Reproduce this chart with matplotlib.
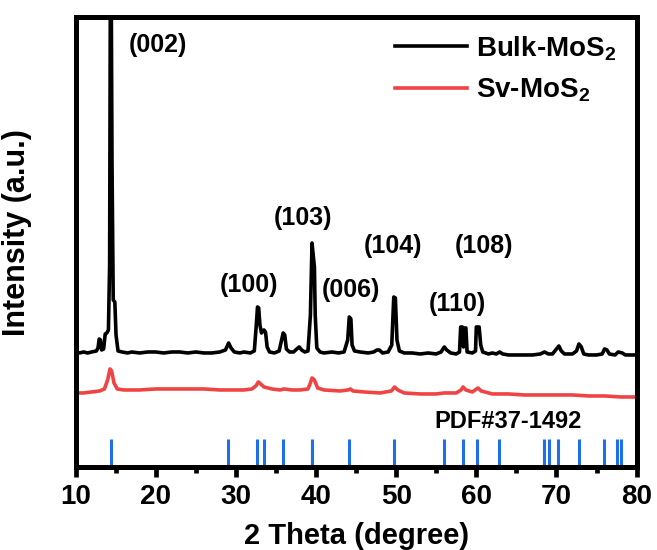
import numpy as np
import matplotlib
matplotlib.use("Agg")
import matplotlib.pyplot as plt
from matplotlib.ticker import MultipleLocator

plt.rcParams['font.family'] = ['Liberation Sans', 'DejaVu Sans']
plt.rcParams['font.weight'] = 'bold'
plt.rcParams['mathtext.fontset'] = 'custom'
plt.rcParams['mathtext.rm'] = 'Liberation Sans:bold'
plt.rcParams['mathtext.default'] = 'rm'

# Bulk-MoS2 pattern (2 theta, intensity in arbitrary units)
bulk_x = [10.0, 10.5, 11.0, 11.5, 12.0, 12.6, 12.8, 12.95, 13.1, 13.25, 13.5, 13.7, 13.9,
          14.1, 14.25, 14.38, 14.55, 14.7, 14.9, 15.05, 15.3, 15.8, 16.5, 17.0, 18.0, 19.0,
          20.0, 21.0, 22.0, 23.0, 24.0, 25.0, 26.0, 27.0, 28.0, 28.7, 29.1, 29.4, 29.8, 30.5,
          31.0, 31.8, 32.3, 32.55, 32.7, 32.85, 33.0, 33.2, 33.5, 33.7, 33.9, 34.2, 34.8,
          35.4, 35.7, 35.9, 36.1, 36.3, 36.7, 37.2, 37.6, 37.9, 38.2, 38.6, 39.0, 39.3, 39.5,
          39.65, 39.8, 39.9, 40.1, 40.5, 41.0, 42.0, 42.8, 43.5, 43.95, 44.15, 44.35, 44.5,
          44.8, 45.5, 46.5, 47.2, 47.6, 47.9, 48.3, 49.0, 49.45, 49.7, 49.9, 50.1, 50.4, 51.0,
          52.0, 53.0, 54.0, 55.0, 55.6, 56.0, 56.3, 56.8, 57.5, 57.9, 58.05, 58.25, 58.4,
          58.55, 58.7, 58.85, 59.5, 59.9, 60.0, 60.35, 60.55, 60.8, 61.5, 62.0, 62.5, 62.9,
          63.3, 64.0, 65.0, 66.0, 67.0, 68.0, 68.5, 69.0, 69.5, 70.0, 70.3, 70.6, 71.0, 72.0,
          72.5, 72.8, 73.1, 73.4, 74.0, 75.0, 75.7, 76.0, 76.3, 76.6, 77.3, 77.7, 78.2, 78.6,
          79.5, 80.0]
bulk_y = [113, 112, 113, 112, 113, 114, 117, 126, 125, 115, 116, 131, 132,
          135, 200, 600, 300, 165, 163, 130, 114, 113, 112, 113, 112, 113,
          113, 112, 113, 113, 112, 113, 112, 112, 113, 115, 122, 117, 113, 112,
          113, 112, 114, 140, 158, 157, 140, 132, 135, 133, 118, 113, 112,
          114, 125, 132, 130, 116, 113, 113, 116, 118, 115, 113, 114, 150, 222,
          210, 198, 150, 117, 113, 112, 113, 112, 113, 125, 148, 146, 120,
          114, 113, 112, 113, 115, 115, 112, 113, 120, 168, 167, 125, 114, 112,
          112, 111, 112, 111, 113, 118, 115, 112, 111, 113, 138, 138, 118,
          137, 137, 113, 112, 114, 138, 138, 120, 113, 111, 112, 111, 113,
          111, 110, 110, 110, 110, 111, 113, 111, 111, 116, 119, 114, 111, 111,
          114, 121, 118, 111, 110, 110, 111, 116, 115, 111, 110, 113, 112, 110,
          110, 110]

# Sv-MoS2 pattern
sv_x = [10, 11, 12, 13, 13.6, 14.0, 14.3, 14.5, 14.8, 15.2, 16, 17, 18, 20, 22, 24, 26, 28,
        30, 31, 32, 32.5, 32.8, 33.1, 33.5, 34.5, 35.5, 36, 37, 38, 39, 39.3, 39.5, 39.8,
        40.2, 41, 43, 44, 44.3, 44.6, 46, 48, 49.4, 49.8, 50.2, 51, 53, 55, 56, 57.5, 58.1,
        58.35, 58.7, 59.5, 60.2, 60.6, 62, 64, 66, 68, 70, 72, 74, 76, 78, 80]
sv_y = [72, 72, 73, 74, 76, 85, 96, 94, 82, 76, 75, 75, 75, 76, 76, 76, 76, 75,
        75, 75, 76, 79, 83, 81, 78, 76, 75, 76, 75, 75, 76, 82, 87, 85,
        77, 75, 74, 75, 76, 74, 73, 72, 74, 78, 75, 72, 71, 71, 72, 72, 75,
        78, 75, 73, 77, 74, 71, 71, 70, 70, 70, 70, 69, 69, 68, 68]

# PDF#37-1492 reference lines
pdf_pos = [14.38, 29.03, 32.68, 33.51, 35.87, 39.54, 44.15, 49.79, 55.98, 58.33, 60.14,
           62.81, 68.5, 69.1, 70.14, 72.8, 75.97, 77.6, 78.1, 80.0]
pdf_height = 26

peak_labels = ['(002)', '(100)', '(103)', '(006)', '(104)', '(110)', '(108)']
label_x = [20.3, 31.7, 38.4, 44.3, 49.6, 57.6, 60.9]
label_y = [420, 180, 247, 175, 219, 161, 219]

fig = plt.figure(figsize=(6.57, 5.5), dpi=100)
ax = fig.add_axes([0.115, 0.151, 0.854, 0.818])

ax.plot(bulk_x, bulk_y, color='black', lw=2.6, label='Bulk-MoS$_2$')
ax.plot(sv_x, sv_y, color='#f04444', lw=2.6, label='Sv-MoS$_2$')
ax.vlines(pdf_pos, -2, pdf_height, color='#1f6fe6', lw=2.2)

for t, x, y in zip(peak_labels, label_x, label_y):
    ax.text(x, y, t, fontsize=18, fontweight='bold', ha='center', va='center')
ax.text(64.0, 43.5, 'PDF#37-1492', fontsize=17, fontweight='bold', ha='center', va='center')

ax.set_xlim(10, 80)
ax.set_ylim(-2, 448)
ax.xaxis.set_major_locator(MultipleLocator(10))
ax.xaxis.set_minor_locator(MultipleLocator(5))
ax.set_yticks([])
for s in ax.spines.values():
    s.set_linewidth(3.6)
ax.tick_params(axis='x', which='major', direction='out', length=7, width=3.4,
               labelsize=20, pad=5)
ax.tick_params(axis='x', which='minor', direction='out', length=4, width=3.4)

ax.set_xlabel('2 Theta (degree)', fontsize=21, fontweight='bold')
ax.set_ylabel('Intensity (a.u.)', fontsize=22, fontweight='bold')
ax.xaxis.set_label_coords(0.5, -0.122)
ax.yaxis.set_label_coords(-0.078, 0.52)

ax.legend(loc='upper left', bbox_to_anchor=(0.5695, 0.962), frameon=False,
          fontsize=20, borderpad=0, borderaxespad=0, handlelength=2.6,
          handletextpad=0.3, labelspacing=0.5)

fig.savefig('out.png', dpi=100)
